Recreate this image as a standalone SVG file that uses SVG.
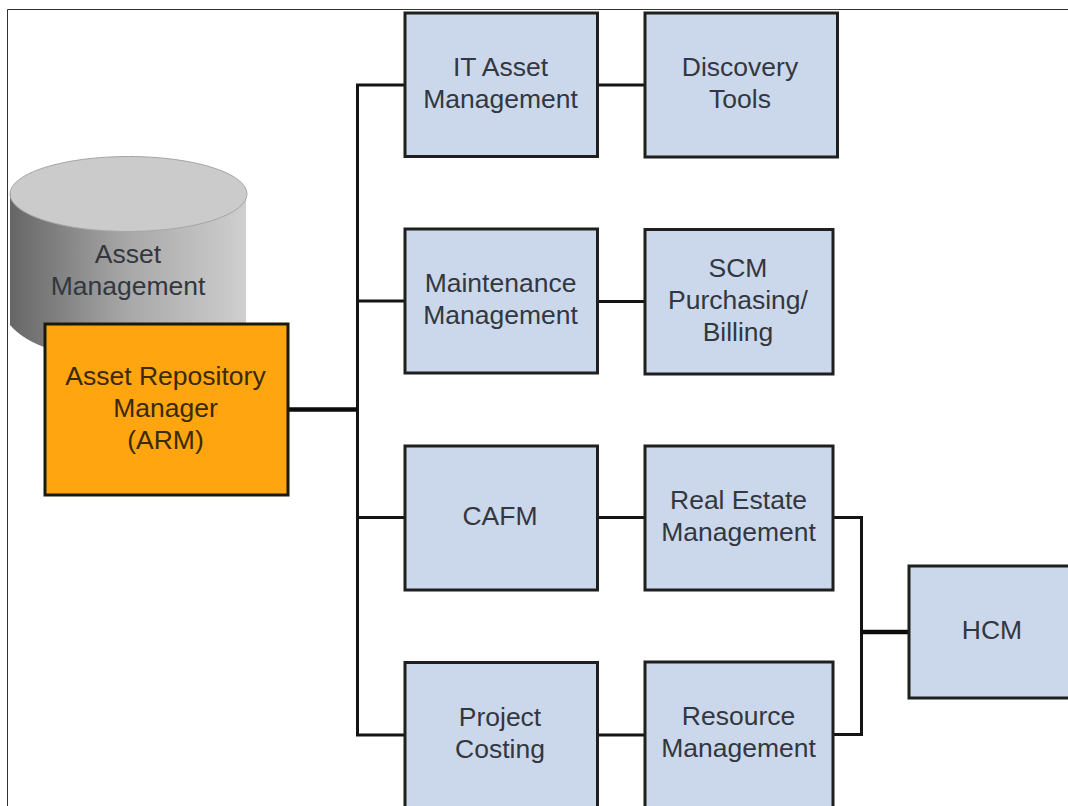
<svg xmlns="http://www.w3.org/2000/svg" width="1068" height="806" viewBox="0 0 1068 806">
<style>
text{font-family:"Liberation Sans",Arial,sans-serif;font-size:26.5px;fill:#33373f;text-anchor:middle}
.b{fill:#cbd8eb;stroke:#1f1f1f;stroke-width:3}
.c{fill:none;stroke:#141414;stroke-width:3}
.t{fill:none;stroke:#0c0c0c;stroke-width:4.5}
</style>
<defs>
<linearGradient id="cyl" x1="0" x2="1" y1="0" y2="0">
<stop offset="0" stop-color="#666"/><stop offset="0.5" stop-color="#a8a8a8"/><stop offset="1" stop-color="#cfcfcf"/>
</linearGradient>
</defs>
<rect width="1068" height="806" fill="#fff"/>
<path d="M7.500 806V9.500H1068" fill="none" stroke="#333" stroke-width="1"/>
<g id="connectors">
<path class="c" d="M405 85H357.500V735H405M357.500 301H405M357.500 517.500H405"/>
<path class="t" d="M288 409.500H357"/>
<path class="c" d="M598 85H645M598 301.500H645M598 517.500H645M598 735H645"/>
<path class="c" d="M833 517.500H861.500V734.500H833"/>
<path class="t" d="M861 632H909"/>
</g>
<g id="asset-management">
<path d="M10 193V325Q24 341 50 349L246 340V193Z" fill="url(#cyl)"/>
<ellipse cx="128.500" cy="194" rx="118.500" ry="37.500" fill="#cbcbcb" stroke="#a5a5a5" stroke-width="1"/>
<text x="128" y="263">Asset</text><text x="128" y="295">Management</text>
</g>
<g id="arm">
<rect x="45" y="324" width="243" height="171" fill="#fea50f" stroke="#1a1a0c" stroke-width="3"/>
<text x="165.500" y="385" style="fill:#3a2a08">Asset Repository</text><text x="165.500" y="417" style="fill:#3a2a08">Manager</text><text x="165.500" y="449" style="fill:#3a2a08">(ARM)</text>
</g>
<g id="it-asset"><rect class="b" x="405" y="13" width="192.500" height="143.500"/><text x="500.500" y="76">IT Asset</text><text x="500.500" y="108">Management</text></g>
<g id="discovery"><rect class="b" x="645" y="13" width="192.500" height="144"/><text x="740" y="76">Discovery</text><text x="740" y="108">Tools</text></g>
<g id="maintenance"><rect class="b" x="405" y="229" width="192.500" height="144"/><text x="500.500" y="292">Maintenance</text><text x="500.500" y="324">Management</text></g>
<g id="scm"><rect class="b" x="645" y="229.500" width="188" height="144.500"/><text x="738" y="277">SCM</text><text x="738" y="309">Purchasing/</text><text x="738" y="341">Billing</text></g>
<g id="cafm"><rect class="b" x="405" y="446" width="192.500" height="144"/><text x="500" y="525">CAFM</text></g>
<g id="real-estate"><rect class="b" x="645" y="446" width="188" height="144"/><text x="738.500" y="509">Real Estate</text><text x="738.500" y="541">Management</text></g>
<g id="project-costing"><rect class="b" x="405" y="662.500" width="192.500" height="146"/><text x="500" y="726">Project</text><text x="500" y="758">Costing</text></g>
<g id="resource"><rect class="b" x="645" y="662" width="188" height="146"/><text x="738.500" y="725">Resource</text><text x="738.500" y="757">Management</text></g>
<g id="hcm"><rect class="b" x="909" y="566" width="162" height="132"/><text x="992" y="639">HCM</text></g>
</svg>
